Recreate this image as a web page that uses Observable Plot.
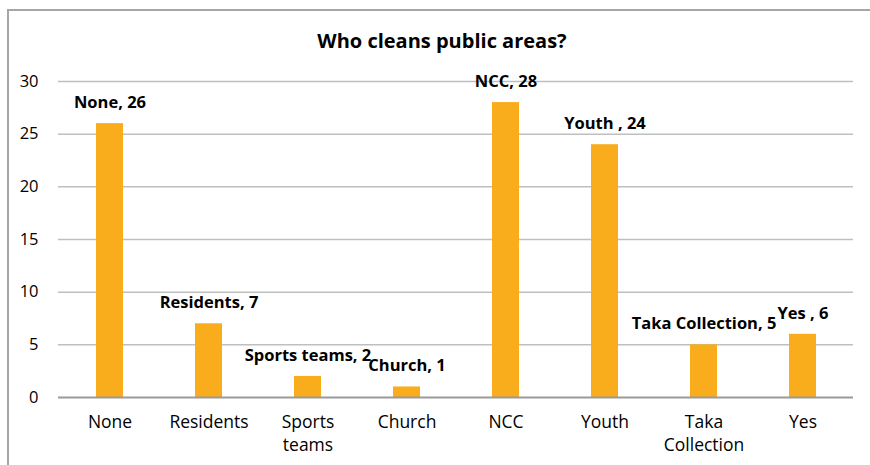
<!DOCTYPE html>
<html>
<head>
<meta charset="utf-8">
<script src="https://cdn.jsdelivr.net/npm/d3@7"></script>
<script src="https://cdn.jsdelivr.net/npm/@observablehq/plot@0.6"></script>
<style>
  html, body { margin: 0; padding: 0; background: #fff; }
  #wrap { position: relative; width: 870px; height: 465px; overflow: hidden; font-family: "Open Sans", sans-serif; }
  #border { position: absolute; left: 7px; top: 9px; width: 900px; height: 500px; border-left: 2px solid #a6a6a6; border-top: 2px solid #a6a6a6; }
  #title { position: absolute; left: 0; width: 884px; top: 27px; text-align: center; font-size: 20px; font-weight: bold; color: #000; }
  #chart { position: absolute; left: 0; top: 0; }
</style>
</head>
<body>
<div id="wrap">
  <div id="border"></div>
  <div id="chart"></div>
  <div id="title">Who cleans public areas?</div>
</div>
<script>
const categories = ["None", "Residents", "Sports teams", "Church", "NCC", "Youth", "Taka Collection", "Yes"];
const tickLabels = ["None", "Residents", "Sports\nteams", "Church", "NCC", "Youth", "Taka\nCollection", "Yes"];
const dataLabels = ["None, 26", "Residents, 7", "Sports teams, 2", "Church, 1", "NCC, 28", "Youth , 24", "Taka Collection, 5", "Yes , 6"];
const values = [26, 7, 2, 1, 28, 24, 5, 6];
const yTicks = [0, 5, 10, 15, 20, 25, 30];

const data = categories.map((c, i) => ({cat: c, value: values[i], label: dataLabels[i], tick: tickLabels[i]}));
const tickMap = new Map(data.map(d => [d.cat, d.tick]));

const plot = Plot.plot({
  width: 870,
  height: 465,
  marginLeft: 58,
  marginRight: 17,
  marginTop: 81,
  marginBottom: 68,
  style: {fontFamily: "'Open Sans', sans-serif", background: "transparent"},
  x: {domain: categories, paddingInner: 0.73, paddingOuter: 0.365, label: null},
  y: {domain: [0, 30], label: null},
  marks: [
    Plot.ruleY(yTicks.filter(t => t > 0), {stroke: "#bfbfbf", strokeWidth: 1.5}),
    Plot.barY(data, {x: "cat", y: "value", fill: "#f9ad1c"}),
    Plot.ruleY([0], {stroke: "#9a9a9a", strokeWidth: 2}),
    Plot.axisY({ticks: yTicks, tickSize: 0, tickPadding: 20, line: true, stroke: "#a6a6a6", fill: "#000", fontSize: 16.5, label: null}),
    Plot.axisX({tickSize: 0, tickPadding: 14, fontSize: 17.5, lineHeight: 1.33, fill: "#000", tickFormat: d => tickMap.get(d), label: null}),
    Plot.text(data, {x: "cat", y: "value", text: "label", dy: -21, fontSize: 16.5, fontWeight: "bold", fill: "#000"})
  ]
});
document.getElementById("chart").appendChild(plot);
</script>
</body>
</html>
